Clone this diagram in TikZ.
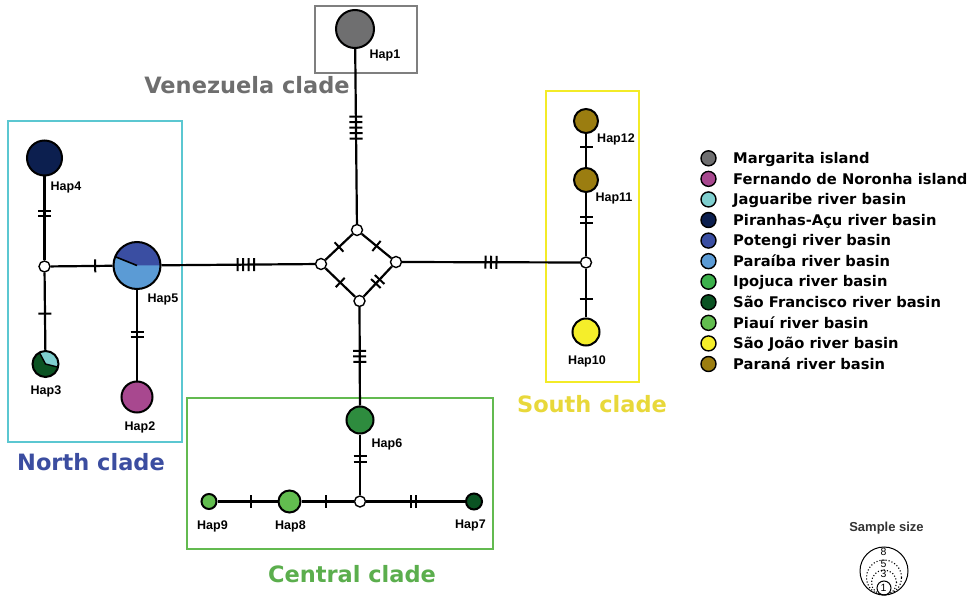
\documentclass[tikz,border=0pt]{standalone}
\usepackage{fontspec}
\setmainfont{Liberation Sans}
\newfontfamily\verdfont{DejaVu Sans}
\usepackage{tikz}
\usetikzlibrary{calc,decorations.markings}

\definecolor{margarita}{HTML}{6F6F70}
\definecolor{noronha}{HTML}{A8488F}
\definecolor{jaguaribe}{HTML}{7FCFCF}
\definecolor{piranhas}{HTML}{0C1F4F}
\definecolor{potengi}{HTML}{3A4EA2}
\definecolor{paraiba}{HTML}{5B9BD5}
\definecolor{ipojuca}{HTML}{3CB04B}
\definecolor{sfrancisco}{HTML}{0B5323}
\definecolor{piaui}{HTML}{62BD4F}
\definecolor{saojoao}{HTML}{F5EE2A}
\definecolor{parana}{HTML}{9B7D10}
\definecolor{hapsix}{HTML}{2E8C3E}
\definecolor{vzbox}{HTML}{7F7F7F}
\definecolor{northbox}{HTML}{5BC7D1}
\definecolor{southbox}{HTML}{F3EB27}
\definecolor{centralbox}{HTML}{63BA50}
\definecolor{vztext}{HTML}{6E6E6E}
\definecolor{northtext}{HTML}{3B4DA0}
\definecolor{southtext}{HTML}{E8D83A}
\definecolor{centraltext}{HTML}{5BAE4D}

\tikzset{
  hap/.style={circle, draw=black, line width=2pt, inner sep=0pt, minimum size=#1},
  hub/.style={circle, draw=black, fill=white, line width=1.4pt, inner sep=0pt, minimum size=11pt},
  edge/.style={line width=2.2pt},
  muts/.style 2 args={postaction={decorate}, decoration={markings,
      mark=at position #2 with {\foreach \k in {1,...,#1}
        {\draw[line width=2pt] ({(\k-(#1+1)/2)*5.5pt},-6.5pt) -- ({(\k-(#1+1)/2)*5.5pt},6.5pt);}}}},
  haplbl/.style={font=\fontsize{12.5}{14}\selectfont\bfseries, anchor=base, inner sep=0pt},
  cladebox/.style={line width=2pt},
  cladelbl/.style={font=\verdfont\fontsize{22.5}{26}\selectfont\bfseries, anchor=base, inner sep=0pt},
  legdot/.style={circle, draw=black, line width=1.4pt, inner sep=0pt, minimum size=15pt},
  legtxt/.style={font=\verdfont\fontsize{14.7}{16}\selectfont\bfseries, anchor=base west, inner sep=0pt},
}

\begin{document}
\begin{tikzpicture}[x=1pt, y=-1pt]
  \useasboundingbox (0,0) rectangle (970,596);

  % clade boxes
  \draw[cladebox, draw=vzbox] (315,6) rectangle (417,73);
  \draw[cladebox, draw=northbox] (8,121) rectangle (182,442);
  \draw[cladebox, draw=southbox] (546,91) rectangle (639,382);
  \draw[cladebox, draw=centralbox] (187,398) rectangle (493,549);

  \node[cladelbl, text=vztext] (vzlbl) at (247,94) {Venezuela clade};
  \node[cladelbl, text=northtext] (northlbl) at (91,470) {North clade};
  \node[cladelbl, text=southtext] (southlbl) at (592,412) {South clade};
  \node[cladelbl, text=centraltext] (centrallbl) at (352,582) {Central clade};

  % median vectors
  \node[hub] (vtop) at (357,230) {};
  \node[hub] (vleft) at (321,264) {};
  \node[hub] (vright) at (396,262) {};
  \node[hub] (vbot) at (359.5,301) {};
  \node[hub] (hubN) at (44.5,266.5) {};
  \node[hub] (hubS) at (586,262.5) {};
  \node[hub] (hubC) at (360,501.5) {};

  % haplotypes
  \node[hap=38pt, fill=margarita] (hap1) at (355,29) {};
  \node[hap=31pt, fill=noronha] (hap2) at (137,397) {};
  \node[hap=26pt, fill=sfrancisco, path picture={
      \fill[jaguaribe] (path picture bounding box.center) -- +(-14:30pt)
        -- +(52:30pt) -- +(118:30pt) -- cycle;
      \draw[line width=1.4pt] ($(path picture bounding box.center)+(-14:14pt)$)
        -- (path picture bounding box.center) -- +(118:14pt);
    }] (hap3) at (45.5,364) {};
  \node[hap=35pt, fill=piranhas] (hap4) at (44.5,158) {};
  \node[hap=47pt, fill=paraiba, path picture={
      \fill[potengi] (path picture bounding box.center) -- +(0:40pt)
        -- +(90:40pt) -- +(158:40pt) -- cycle;
      \draw[line width=1.6pt] (path picture bounding box.center) -- +(158:25pt);
    }] (hap5) at (137,265.5) {};
  \node[hap=27pt, fill=hapsix] (hap6) at (360,420) {};
  \node[hap=16pt, fill=sfrancisco] (hap7) at (474,501.5) {};
  \node[hap=22pt, fill=piaui] (hap8) at (289.5,501.5) {};
  \node[hap=15pt, fill=piaui] (hap9) at (209,501.5) {};
  \node[hap=27pt, fill=saojoao] (hap10) at (586,332) {};
  \node[hap=24pt, fill=parana] (hap11) at (586,180) {};
  \node[hap=24pt, fill=parana] (hap12) at (586,121) {};

  % connections with mutation steps
  \draw[edge, muts={5}{0.45}] (hap1) -- (vtop);
  \draw[edge, muts={1}{0.5}] (vtop) -- (vleft);
  \draw[edge, muts={1}{0.5}] (vtop) -- (vright);
  \draw[edge, muts={1}{0.5}] (vleft) -- (vbot);
  \draw[edge, muts={2}{0.5}] (vbot) -- (vright);
  \draw[edge, muts={4}{0.45}] (vleft) -- (hap5);
  \draw[edge, muts={1}{0.72}] (hubN) -- (hap5);
  \draw[edge, muts={2}{0.56}] (hubN) -- (hap4);
  \draw[edge, muts={1}{0.53}] (hubN) -- (hap3);
  \draw[edge, muts={2}{0.49}] (hap5) -- (hap2);
  \draw[edge, muts={3}{0.5}] (vright) -- (hubS);
  \draw[edge, muts={2}{0.57}] (hubS) -- (hap11);
  \draw[edge, muts={1}{0.6}] (hap11) -- (hap12);
  \draw[edge, muts={1}{0.63}] (hubS) -- (hap10);
  \draw[edge, muts={3}{0.5}] (vbot) -- (hap6);
  \draw[edge, muts={2}{0.4}] (hap6) -- (hubC);
  \draw[edge, muts={1}{0.53}] (hubC) -- (hap8);
  \draw[edge, muts={1}{0.45}] (hap8) -- (hap9);
  \draw[edge, muts={2}{0.48}] (hubC) -- (hap7);

  % haplotype labels
  \node[haplbl] (lbl1) at (385,59) {Hap1};
  \node[haplbl] (lbl2) at (140,430) {Hap2};
  \node[haplbl] (lbl3) at (46,394) {Hap3};
  \node[haplbl] (lbl4) at (66,191) {Hap4};
  \node[haplbl] (lbl5) at (163,303) {Hap5};
  \node[haplbl] (lbl6) at (387,447) {Hap6};
  \node[haplbl] (lbl7) at (470.5,528) {Hap7};
  \node[haplbl] (lbl8) at (290.5,529) {Hap8};
  \node[haplbl] (lbl9) at (212.5,529) {Hap9};
  \node[haplbl] (lbl10) at (587,364) {Hap10};
  \node[haplbl] (lbl11) at (614,202) {Hap11};
  \node[haplbl] (lbl12) at (616,143) {Hap12};

  % legend
  \foreach \col/\txt [count=\i] in {margarita/Margarita island,
      noronha/Fernando de Noronha island, jaguaribe/Jaguaribe river basin,
      piranhas/Piranhas-Açu river basin, potengi/Potengi river basin,
      paraiba/Paraíba river basin, ipojuca/Ipojuca river basin,
      sfrancisco/São Francisco river basin, piaui/Piauí river basin,
      saojoao/São João river basin, parana/Paraná river basin}{
    \node[legdot, fill=\col] (leg\i) at (708.5,{158.3+(\i-1)*20.57}) {};
    \node[legtxt] (legtxt\i) at (733,{163.5+(\i-1)*20.57}) {\txt};
  }

  % sample size
  \node[font=\fontsize{13}{15}\selectfont\bfseries, text=black!80] (sizelbl) at (886.5,528) {Sample size};
  \draw[line width=1pt] (884,571) circle[radius=24pt];
  \draw[line width=1.1pt, dotted] (884,577.5) circle[radius=17.5pt];
  \draw[line width=1.1pt, dotted] (884,582.5) circle[radius=12.5pt];
  \draw[line width=1pt] (884,588) circle[radius=7pt];
  \foreach \n/\yy in {8/552, 5/563.5, 3/574, 1/587.5}
    \node[font=\fontsize{10.5}{11}\selectfont, inner sep=0pt] at (883.5,\yy) {\n};
\end{tikzpicture}
\end{document}
